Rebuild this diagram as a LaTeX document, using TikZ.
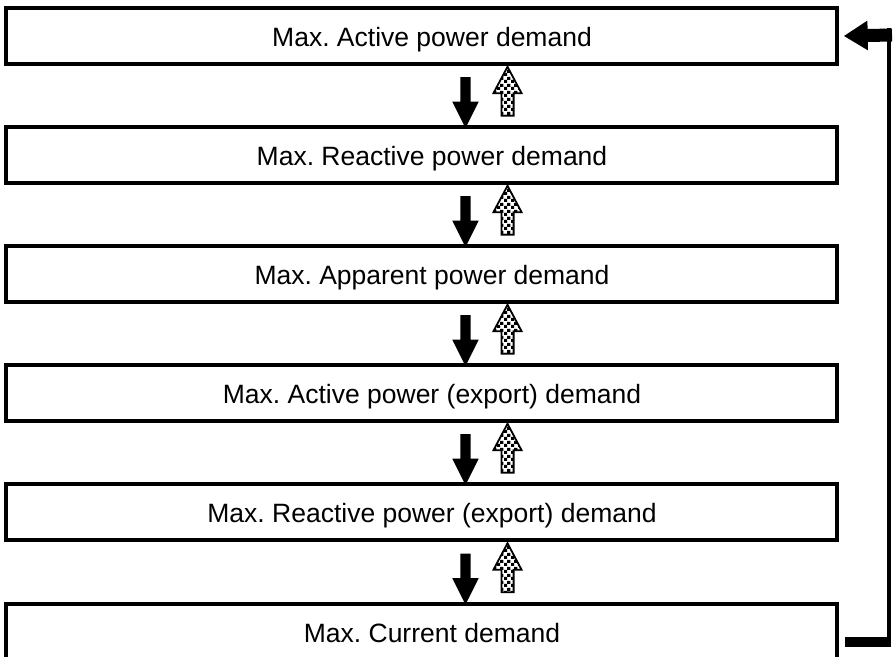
\documentclass[tikz,border=0pt]{standalone}
\usepackage{fontspec}
\setmainfont{Liberation Sans}
\usetikzlibrary{calc,arrows.meta,shapes.arrows,patterns}
\pgfdeclarepatternformonly{finechecker}{\pgfpointorigin}{\pgfqpoint{3.5pt}{3.5pt}}{\pgfqpoint{3.5pt}{3.5pt}}{%
	\pgfpathrectangle{\pgfpointorigin}{\pgfqpoint{1.75pt}{1.75pt}}%
	\pgfpathrectangle{\pgfqpoint{1.75pt}{1.75pt}}{\pgfqpoint{1.75pt}{1.75pt}}%
	\pgfusepath{fill}}
\frenchspacing
\begin{document}
\begin{tikzpicture}[x=0.5pt,y=-0.5pt,
		box/.style={draw,line width=1.7pt,minimum width=415.5pt,minimum height=28pt,inner sep=0pt,
			font=\fontsize{13.25}{16}\selectfont,text height=10.7pt,text depth=0pt,
			execute at begin node=\hspace*{10.5pt}},
		downarr/.style={single arrow,fill=black,rotate=-90,minimum height=25.5pt,inner xsep=0pt,inner ysep=2.4pt,
			text height=0pt,text depth=0pt,single arrow head extend=4pt,single arrow tip angle=53},
		uparr/.style={single arrow,draw,line width=0.9pt,pattern=finechecker,rotate=90,minimum height=24.5pt,inner xsep=0pt,inner ysep=2.6pt,
			text height=0pt,text depth=0pt,single arrow head extend=4pt,single arrow tip angle=56}]
	\useasboundingbox (0,0) rectangle (893,657);
	\node[box] (b1) at (421.5,36) {Max. Active power demand};
	\node[box] (b2) at (421.5,155) {Max. Reactive power demand};
	\node[box] (b3) at (421.5,274) {Max. Apparent power demand};
	\node[box] (b4) at (421.5,393) {Max. Active power (export) demand};
	\node[box] (b5) at (421.5,512) {Max. Reactive power (export) demand};
	\node[box] (b6) at (421.5,632) {Max. Current demand};
	% arrows between the boxes
	\foreach \a/\b in {b1/b2,b2/b3,b3/b4,b4/b5,b5/b6}{
		\node[downarr] (d\a) at ($(\a.south)!.5!(\b.north)+(44,2)$) {};
		\node[uparr] (u\a) at ($(\a.south)!.5!(\b.north)+(86,1.5)$) {};
	}
	% way back up
	\coordinate (c1) at (890,642);
	\coordinate (c2) at (890,35);
	\draw[line width=5pt] ([shift={(6,10)}]b6.east) -- ([xshift=0.5pt]c1);
	\draw[line width=2pt] ([shift={(-1,5)}]c1) -- ([shift={(-1,-7)}]c2);
	\draw[line width=6.5pt,-{Triangle[width=14pt,length=12pt]}] ([xshift=1pt]c2) -- ([xshift=2.5pt]b1.east);
\end{tikzpicture}
\end{document}
